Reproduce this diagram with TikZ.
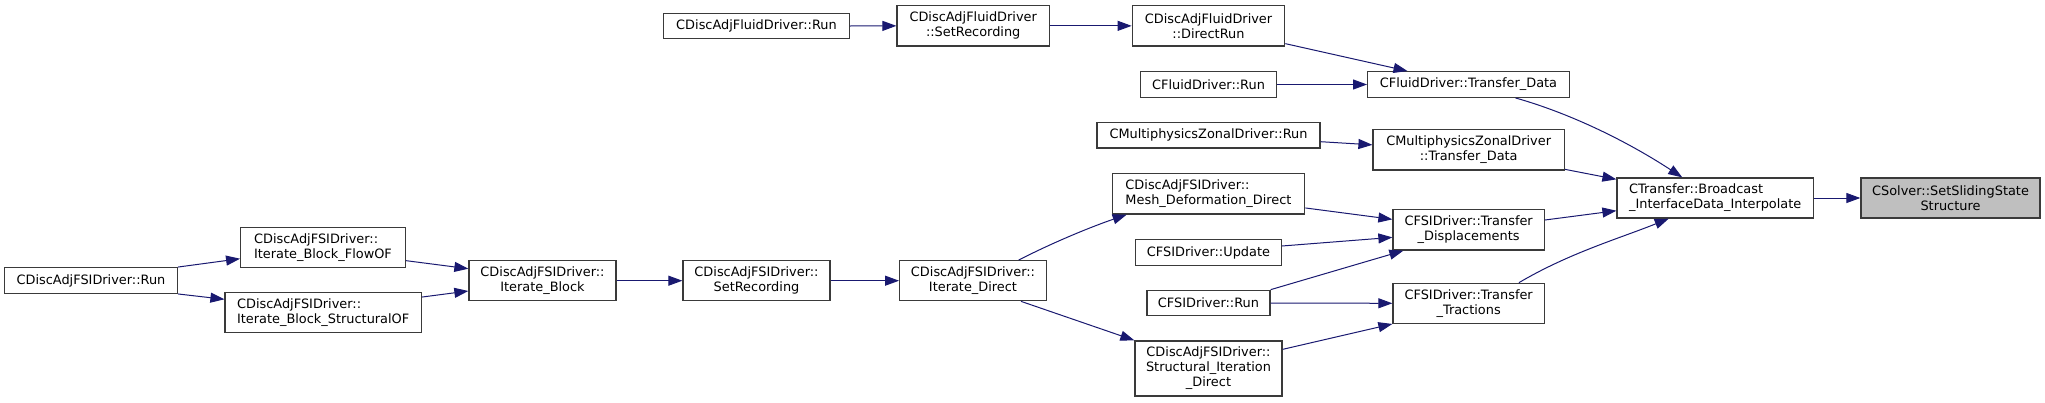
\documentclass[tikz,border=0pt]{standalone}
\usepackage{fontspec}
\setmainfont{DejaVu Sans}
\usetikzlibrary{arrows.meta,calc}
\definecolor{edgec}{HTML}{191970}
\definecolor{boxc}{HTML}{3A3A3A}
\definecolor{hl}{HTML}{BFBFBF}
\begin{document}
\begin{tikzpicture}[x=1pt,y=-1pt,
  box/.style={draw=boxc,line width=1.3pt,fill=white,inner sep=0pt,font=\fontsize{12.9}{15}\selectfont},
  cbox/.style={box,align=center},
  lbox/.style={box,align=left},
  edge/.style={draw=edgec,line width=1pt,-{Triangle[length=14pt,width=10pt]}}]
\useasboundingbox (0,0) rectangle (2045,402);
% top fluid chain
\node[cbox,minimum width=185.6pt,minimum height=25.4pt] (fr) at (756.5,26) {CDiscAdjFluidDriver::Run};
\node[cbox,minimum width=152.3pt,minimum height=40.3pt] (fsr) at (973.2,25.85) {CDiscAdjFluidDriver\\::SetRecording};
\node[cbox,minimum width=152.4pt,minimum height=40.3pt] (fdr) at (1208.5,25.85) {CDiscAdjFluidDriver\\::DirectRun};
\node[cbox,minimum width=136.4pt,minimum height=25.6pt] (cfr) at (1208.5,84.5) {CFluidDriver::Run};
\node[cbox,minimum width=201.6pt,minimum height=25.6pt] (cft) at (1468.5,84.5) {CFluidDriver::Transfer\_Data};
\node[cbox,minimum width=223pt,minimum height=25.3pt] (mzr) at (1208.5,135.3) {CMultiphysicsZonalDriver::Run};
\node[cbox,minimum width=191.3pt,minimum height=40.3pt] (mzt) at (1468.7,149.85) {CMultiphysicsZonalDriver\\::Transfer\_Data};
% FSI column
\node[lbox,minimum width=192.4pt,minimum height=40.3pt] (md) at (1208.5,193.85) {CDiscAdjFSIDriver::\\Mesh\_Deformation\_Direct};
\node[cbox,minimum width=145.6pt,minimum height=25.6pt] (cfu) at (1208.5,252.5) {CFSIDriver::Update};
\node[cbox,minimum width=123pt,minimum height=25.4pt] (cfrun) at (1208.5,303) {CFSIDriver::Run};
\node[cbox,minimum width=147pt,minimum height=55pt] (si) at (1208.5,368.5) {CDiscAdjFSIDriver::\\Structural\_Iteration\\\_Direct};
\node[cbox,minimum width=151.3pt,minimum height=40.3pt] (ctd) at (1468.65,229.85) {CFSIDriver::Transfer\\\_Displacements};
\node[cbox,minimum width=151.3pt,minimum height=40pt] (ctt) at (1468.65,303.3) {CFSIDriver::Transfer\\\_Tractions};
\node[lbox,minimum width=196.3pt,minimum height=40pt] (bc) at (1715.2,198) {CTransfer::Broadcast\\\_InterfaceData\_Interpolate};
\node[cbox,fill=hl,minimum width=179pt,minimum height=40pt] (ss) at (1950.5,198) {CSolver::SetSlidingState\\Structure};
% left chain
\node[cbox,minimum width=172.6pt,minimum height=25.6pt] (dr) at (91,280.5) {CDiscAdjFSIDriver::Run};
\node[lbox,minimum width=164.6pt,minimum height=40pt] (ibf) at (323,247.3) {CDiscAdjFSIDriver::\\Iterate\_Block\_FlowOF};
\node[lbox,minimum width=196.3pt,minimum height=40pt] (ibs) at (323.2,312.7) {CDiscAdjFSIDriver::\\Iterate\_Block\_StructuralOF};
\node[cbox,minimum width=147pt,minimum height=40pt] (ib) at (542.5,280.7) {CDiscAdjFSIDriver::\\Iterate\_Block};
\node[cbox,minimum width=147pt,minimum height=40pt] (dsr) at (756.5,280.7) {CDiscAdjFSIDriver::\\SetRecording};
\node[cbox,minimum width=146.6pt,minimum height=40pt] (id) at (973,280.7) {CDiscAdjFSIDriver::\\Iterate\_Direct};
% edges
\draw[edge] (fr.east) -- (fsr.west);
\draw[edge] (fsr.east) -- (fdr.west);
\draw[edge] ([yshift=3pt]fdr.south east) -- ([xshift=-61pt]cft.north);
\draw[edge] (cfr.east) -- (cft.west);
\draw[edge] ([xshift=47pt]cft.south) .. controls +(55,15.5) and +(-55,-36) .. ([xshift=-33pt]bc.north);
\draw[edge] ([yshift=-6.4pt]mzr.east) -- ([yshift=5pt]mzt.west);
\draw[edge] ([yshift=1.3pt]mzt.south east) -- ([yshift=-2pt]bc.north west);
\draw[edge] ([yshift=6.7pt]md.south east) -- ([yshift=-10.3pt]ctd.north west);
\draw[edge] ([yshift=6.5pt]cfu.east) -- ([yshift=-7.5pt]ctd.west);
\draw[edge] (cfrun.north east) -- ([xshift=11pt]ctd.south west);
\draw[edge] (cfrun.east) -- (ctt.west);
\draw[edge] ([yshift=-9pt]si.north east) -- (ctt.south west);
\draw[edge] ([yshift=9.85pt]ctd.east) -- ([yshift=-12.7pt]bc.west);
\draw[edge] ([xshift=50.3pt]ctt.north) .. controls +(50,-29.5) and +(-50,20) .. ([xshift=-46.5pt]bc.south);
\draw[edge] (bc.east) -- (ss.west);
\draw[edge] ([xshift=45.7pt]id.north) .. controls +(35,-18) and +(-35,12) .. ([xshift=15pt]md.south west);
\draw[edge] ([xshift=48pt]id.south) -- (si.north west);
\draw[edge] (dsr.east) -- (id.west);
\draw[edge] (ib.east) -- (dsr.west);
\draw[edge] ([yshift=7.3pt]ibf.south east) -- ([yshift=12pt]ib.west);
\draw[edge] ([yshift=-5pt]ibs.north east) -- ([yshift=-10.3pt]ib.west);
\draw[edge] (dr.north east) -- ([yshift=-11.4pt]ibf.west);
\draw[edge] (dr.south east) -- ([yshift=13.4pt]ibs.west);
\end{tikzpicture}
\end{document}
